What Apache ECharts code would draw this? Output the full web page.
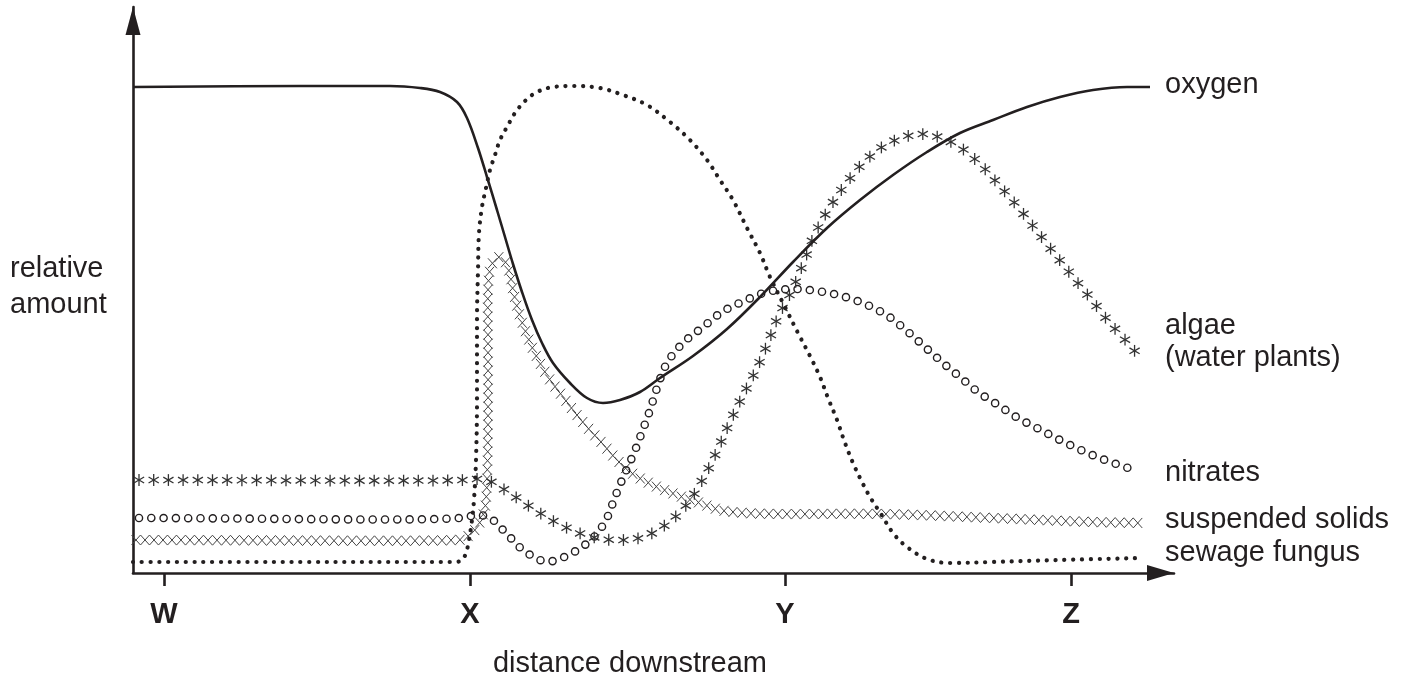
<!DOCTYPE html>
<html><head><meta charset="utf-8">
<script src="https://cdn.jsdelivr.net/npm/echarts@6/dist/echarts.min.js"></script>
<style>html,body{margin:0;padding:0;background:#fff}#c{width:1407px;height:680px}</style>
</head><body><div id="c"></div>
<script>
// ---------- data (x: distance downstream, y: relative amount) ----------
const tickValues = [3.1, 33.7, 65.2, 93.8];
const tickLabels = ['W', 'X', 'Y', 'Z'];
const curveLabels = ['oxygen', 'algae', '(water plants)', 'nitrates', 'suspended solids', 'sewage fungus'];
const yAxisTitle = ['relative', 'amount'];
const xAxisTitle = 'distance downstream';

const oxygen = [[0,97.2],[16.7,97.4],[25.7,97.4],[28.7,97.0],[30.7,96.2],[32.4,94.2],[33.4,91.0],[34.5,85.0],[35.4,79.2],[36.4,72.6],[37.2,67.2],[38.0,61.8],[38.9,56.2],[39.9,50.6],[40.9,46.0],[42.0,42.0],[43.7,38.0],[45.4,35.0],[47.0,34.0],[48.7,34.6],[50.7,36.2],[52.7,39.0],[56.0,43.4],[59.4,48.8],[62.7,55.2],[66.0,62.2],[69.4,69.0],[72.7,74.6],[76.0,79.6],[79.4,84.2],[82.7,88.0],[86.0,90.6],[89.4,93.2],[92.7,95.2],[96.0,96.6],[99.4,97.2],[101.7,97.2]];

const sewageFungus = [[0,2.2],[16.7,2.2],[32.2,2.2],[32.9,2.6],[33.3,4.0],[33.6,6.6],[33.9,10.6],[34.1,14.6],[34.3,22.6],[34.4,34.6],[34.4,50.6],[34.5,60.6],[34.6,68.0],[34.9,73.2],[35.3,77.0],[35.7,80.6],[36.2,83.6],[36.7,86.6],[37.4,89.2],[38.2,92.0],[39.2,94.4],[40.4,96.2],[42.0,97.2],[44.0,97.4],[46.7,97.0],[49.0,95.6],[51.4,93.6],[53.7,90.2],[55.7,86.6],[57.4,82.6],[58.7,78.6],[60.0,74.6],[61.4,69.0],[62.7,64.0],[63.7,59.2],[65.2,53.2],[66.5,48.0],[67.7,43.4],[68.7,39.2],[69.5,35.0],[70.4,30.6],[71.2,26.0],[72.0,22.0],[72.8,18.6],[73.7,15.2],[74.8,11.8],[76.0,8.0],[77.4,5.2],[79.4,2.8],[81.7,2.0],[86.0,2.2],[92.7,2.6],[101.0,3.0]];

const nitrates = [[0.6,11.0],[32.7,11.0],[34.5,11.6],[35.7,11.0],[37.3,8.0],[39.0,4.6],[41.0,2.4],[42.0,2.4],[44.1,4.2],[46.0,7.0],[47.3,10.6],[48.2,15.2],[49.2,20.0],[50.1,24.0],[50.9,28.2],[51.7,32.6],[52.4,37.0],[53.4,42.0],[55.0,46.0],[57.0,49.2],[58.9,52.2],[61.1,54.4],[63.4,56.2],[66.0,56.8],[68.4,56.4],[70.9,55.4],[73.2,53.8],[75.5,51.4],[77.4,48.4],[79.2,45.2],[81.0,42.0],[82.7,39.2],[84.5,36.2],[86.5,33.6],[88.5,31.0],[90.6,28.8],[92.7,26.6],[95.0,24.4],[97.2,22.6],[100.4,20.4]];

const algae = [[0.6,18.6],[33.2,18.6],[34.4,18.8],[35.9,18.2],[37.5,16.2],[39.9,13.0],[42.4,10.0],[45.2,7.6],[48.0,6.6],[51.0,7.2],[53.5,10.0],[55.5,14.0],[57.1,19.2],[58.4,24.4],[59.6,29.8],[60.9,35.2],[62.2,40.2],[63.4,45.6],[64.5,51.2],[65.9,56.6],[67.0,61.8],[68.1,67.4],[69.5,72.6],[71.2,77.6],[73.1,82.2],[75.6,86.0],[78.9,87.8],[82.0,86.0],[84.5,82.2],[86.6,77.6],[88.5,73.2],[90.3,68.6],[92.1,64.0],[94.0,59.2],[95.8,54.8],[97.6,50.2],[99.5,46.0],[100.5,43.6]];

const suspendedSolids = [[0.3,6.6],[32.2,6.6],[33.0,6.8],[34.0,8.2],[34.7,10.2],[35.2,13.0],[35.4,18.6],[35.5,30.6],[35.5,46.6],[35.5,56.6],[35.7,60.6],[36.1,62.4],[36.7,63.2],[37.3,62.0],[37.7,59.6],[38.0,56.6],[38.5,52.6],[39.2,48.6],[39.9,45.2],[40.7,42.0],[41.5,39.2],[42.7,36.0],[44.0,32.6],[45.4,29.2],[46.9,26.0],[48.4,22.6],[50.0,19.8],[52.0,17.6],[54.4,15.6],[56.7,14.0],[58.7,12.6],[61.2,12.0],[64.7,11.8],[75.0,11.8],[86.0,11.0],[96.0,10.2],[100.7,10.0]];

// ---------- helpers ----------
const INK = '#231f20';
const FONT = '"Liberation Sans", Arial, Helvetica, sans-serif';

function spline(pts, n) {
  const out = [pts[0]];
  const d = (a, b) => Math.max(Math.pow(Math.hypot(b[0]-a[0], b[1]-a[1]), 0.5), 1e-4);
  for (let i = 0; i < pts.length - 1; i++) {
    const p1 = pts[i], p2 = pts[i+1];
    const p0 = i > 0 ? pts[i-1] : [2*p1[0]-p2[0], 2*p1[1]-p2[1]];
    const p3 = i < pts.length - 2 ? pts[i+2] : [2*p2[0]-p1[0], 2*p2[1]-p1[1]];
    const t0 = 0, t1 = t0 + d(p0,p1), t2 = t1 + d(p1,p2), t3 = t2 + d(p2,p3);
    for (let s = 1; s <= n; s++) {
      const t = t1 + (t2 - t1) * s / n;
      const lerp = (a, b, ta, tb) => { const w = (t - ta) / (tb - ta); return [a[0] + (b[0]-a[0])*w, a[1] + (b[1]-a[1])*w]; };
      const A1 = lerp(p0,p1,t0,t1), A2 = lerp(p1,p2,t1,t2), A3 = lerp(p2,p3,t2,t3);
      const B1 = lerp(A1,A2,t0,t2), B2 = lerp(A2,A3,t1,t3);
      out.push(lerp(B1,B2,t1,t2));
    }
  }
  return out;
}
function along(poly, step, start) {
  const res = [];
  let next = start, acc = 0;
  for (let i = 1; i < poly.length; i++) {
    const a = poly[i-1], b = poly[i];
    const L = Math.hypot(b[0]-a[0], b[1]-a[1]);
    while (next <= acc + L) {
      const w = L ? (next - acc) / L : 0;
      res.push([a[0] + (b[0]-a[0])*w, a[1] + (b[1]-a[1])*w]);
      next += step;
    }
    acc += L;
  }
  return res;
}
function drawCircles(pts) {
  return { type: 'group', children: pts.map(p => ({
    type: 'circle', shape: { cx: p[0], cy: p[1], r: 3.6 },
    style: { fill: 'none', stroke: INK, lineWidth: 1.4 } })) };
}
function drawStars(pts) {
  const ch = [];
  const r = 5.9;
  pts.forEach(p => {
    [90, 30, -30].forEach(a => {
      const c = Math.cos(a * Math.PI / 180) * r, s = Math.sin(a * Math.PI / 180) * r;
      ch.push({ type: 'line', shape: { x1: p[0]+c, y1: p[1]-s, x2: p[0]-c, y2: p[1]+s },
        style: { stroke: '#333', lineWidth: 1.3 } });
    });
  });
  return { type: 'group', children: ch };
}
function drawCrosses(pts) {
  const ch = [];
  const hx = 4.5, hy = 5.0;
  pts.forEach(p => {
    ch.push({ type: 'line', shape: { x1: p[0]-hx, y1: p[1]-hy, x2: p[0]+hx, y2: p[1]+hy }, style: { stroke: '#444', lineWidth: 1 } });
    ch.push({ type: 'line', shape: { x1: p[0]-hx, y1: p[1]+hy, x2: p[0]+hx, y2: p[1]-hy }, style: { stroke: '#444', lineWidth: 1 } });
  });
  return { type: 'group', children: ch };
}
function markerSeries(name, data, step, start, draw) {
  return {
    type: 'custom', name: name, data: data, encode: { x: 0, y: 1 }, silent: true,
    renderItem: function (params, api) {
      if (params.dataIndex !== 0) return null;
      const px = data.map(p => api.coord(p));
      return draw(along(spline(px, 16), step, start));
    }
  };
}

// ---------- chart ----------
const chart = echarts.init(document.getElementById('c'), null, { renderer: 'canvas' });
const txt = (text, x, y, align, extra) => ({
  type: 'text', x: x, y: y, silent: true,
  style: Object.assign({ text: text, fill: INK, font: '29px ' + FONT, align: align || 'left', verticalAlign: 'middle' }, extra || {})
});
const labelY = [85, 326, 358, 473, 520, 553];

chart.setOption({
  animation: false,
  backgroundColor: '#fff',
  grid: { left: 133, top: 7, width: 1041, height: 566, containLabel: false },
  xAxis: {
    type: 'value', min: 0, max: 104.1,
    axisLine: { show: true, lineStyle: { color: INK, width: 2.6 }, symbol: ['none', 'triangle'], symbolSize: [16, 27], symbolOffset: [0, -13.5] },
    axisTick: { show: true, customValues: tickValues, length: 13, inside: false, lineStyle: { color: INK, width: 2.6 } },
    axisLabel: { show: true, customValues: tickValues, margin: 27, color: INK, fontFamily: FONT, fontSize: 29, fontWeight: 'bold',
      formatter: v => { const i = tickValues.indexOf(v); return i >= 0 ? tickLabels[i] : ''; } },
    splitLine: { show: false }
  },
  yAxis: {
    type: 'value', min: 0, max: 113.2,
    axisLine: { show: true, lineStyle: { color: INK, width: 2.6 }, symbol: ['none', 'triangle'], symbolSize: [15, 28], symbolOffset: [0, -14] },
    axisTick: { show: false }, axisLabel: { show: false }, splitLine: { show: false }
  },
  series: [
    markerSeries('suspended solids', suspendedSolids, 9.0, 0, drawCrosses),
    markerSeries('nitrates', nitrates, 12.3, 0, drawCircles),
    markerSeries('algae (water plants)', algae, 14.7, 0, drawStars),
    { type: 'line', name: 'sewage fungus', data: sewageFungus, smooth: 0.35, symbol: 'none', silent: true,
      lineStyle: { color: INK, width: 4.2, type: [0.1, 8.7], cap: 'round' } },
    { type: 'line', name: 'oxygen', data: oxygen, smooth: 0.35, symbol: 'none', silent: true,
      lineStyle: { color: INK, width: 2.6 } }
  ],
  graphic: [
    ...curveLabels.map((t, i) => txt(t, 1165, labelY[i])),
    txt(yAxisTitle[0], 10, 269), txt(yAxisTitle[1], 10, 305),
    txt(xAxisTitle, 630, 664, 'center')
  ]
});
</script></body></html>
